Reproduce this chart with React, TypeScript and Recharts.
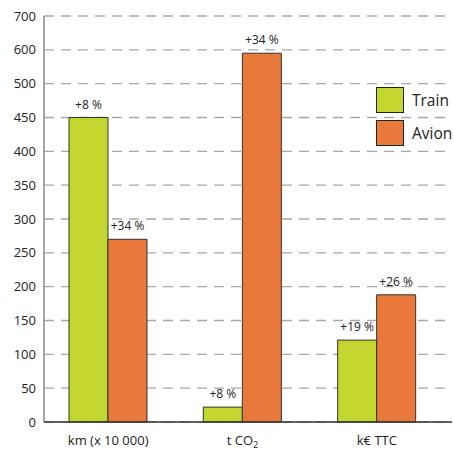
import React from "react";
import { BarChart, Bar, XAxis, YAxis, CartesianGrid, LabelList, Legend } from "recharts";

// Categories and values per mode of transport
const CATEGORIES = ["km (x 10 000)", "t CO₂", "k€ TTC"];
const TRAIN = [450, 22, 121];
const AVION = [270, 590, 188];
const TRAIN_CHANGE = ["+8 %", "+8 %", "+19 %"];
const AVION_CHANGE = ["+34 %", "+34 %", "+26 %"];

// The value axis is broken: steps of 50 up to 500, then steps of 100
const TICK_VALUES = [0, 50, 100, 150, 200, 250, 300, 350, 400, 450, 500, 600, 700];

const FONT = "'Open Sans', 'DejaVu Sans', sans-serif";
const TRAIN_COLOR = "#c3d630";
const AVION_COLOR = "#e8793a";

// Map a real value to its position on the piecewise axis (one unit per tick step)
function toAxis(v: number): number {
  for (let i = 0; i < TICK_VALUES.length - 1; i++) {
    const a = TICK_VALUES[i];
    const b = TICK_VALUES[i + 1];
    if (v <= b) return i + (v - a) / (b - a);
  }
  return TICK_VALUES.length - 1;
}

const rows = CATEGORIES.map((category, i) => ({
  category,
  train: toAxis(TRAIN[i]),
  avion: toAxis(AVION[i]),
  trainChange: TRAIN_CHANGE[i],
  avionChange: AVION_CHANGE[i],
}));

const tickIndices = TICK_VALUES.map((_, i) => i);

function CategoryTick(props: any) {
  const { x, y, payload } = props;
  const label: string = payload.value;
  const subIdx = label.indexOf("₂");
  return (
    <text x={x} y={y} dy={15} textAnchor="middle" fill="#222" fontSize={13} fontFamily={FONT}>
      {subIdx >= 0 ? (
        <>
          <tspan>{label.slice(0, subIdx)}</tspan>
          <tspan fontSize={9} dy={3}>2</tspan>
        </>
      ) : (
        label
      )}
    </text>
  );
}

// Change label drawn on one line above each bar
function ChangeLabel(props: any) {
  const { x, y, width, value } = props;
  return (
    <text
      x={Number(x) + Number(width) / 2}
      y={Number(y) - 9}
      textAnchor="middle"
      fill="#222"
      fontSize={12}
      fontFamily={FONT}
    >
      {value}
    </text>
  );
}

function LegendBox() {
  const items = [
    { name: "Train", color: TRAIN_COLOR },
    { name: "Avion", color: AVION_COLOR },
  ];
  return (
    <div style={{ display: "flex", flexDirection: "column", gap: 7 }}>
      {items.map((it) => (
        <div key={it.name} style={{ display: "flex", alignItems: "center", height: 26 }}>
          <div
            style={{
              width: 26,
              height: 24,
              background: it.color,
              border: "1px solid #222",
              marginRight: 8,
              flexShrink: 0,
            }}
          />
          <span style={{ fontFamily: FONT, fontSize: 15.5, color: "#222" }}>{it.name}</span>
        </div>
      ))}
    </div>
  );
}

export default function App() {
  return (
    <div style={{ position: "absolute", left: 0, top: 0 }}>
      <BarChart
        width={454}
        height={451}
        data={rows}
        margin={{ top: 16, right: 2, bottom: 0, left: 0 }}
        barGap={0}
      >
        <CartesianGrid vertical={false} stroke="#a8a8a8" strokeDasharray="10 7" strokeWidth={1.3} />
        <XAxis
          dataKey="category"
          height={29}
          interval={0}
          tickLine={false}
          axisLine={{ stroke: "#333", strokeWidth: 1.5 }}
          tick={<CategoryTick />}
          padding={{ left: -3, right: 8 }}
        />
        <YAxis
          type="number"
          width={44}
          domain={[0, TICK_VALUES.length - 1]}
          ticks={tickIndices}
          interval={0}
          tickLine={false}
          axisLine={{ stroke: "#8a8a8a", strokeWidth: 1.5 }}
          tickFormatter={(i: number) => String(TICK_VALUES[i])}
          tick={{ fill: "#222", fontSize: 13, fontFamily: FONT }}
        />
        <Legend
          verticalAlign="middle"
          align="center"
          layout="vertical"
          content={<LegendBox />}
          wrapperStyle={{ position: "absolute", left: 376, top: 87, width: 80 }}
        />
        <Bar
          dataKey="train"
          name="Train"
          fill={TRAIN_COLOR}
          stroke="#333"
          strokeWidth={1}
          barSize={39}
          isAnimationActive={false}
        >
          <LabelList dataKey="trainChange" content={<ChangeLabel />} />
        </Bar>
        <Bar
          dataKey="avion"
          name="Avion"
          fill={AVION_COLOR}
          stroke="#333"
          strokeWidth={1}
          barSize={39}
          isAnimationActive={false}
        >
          <LabelList dataKey="avionChange" content={<ChangeLabel />} />
        </Bar>
      </BarChart>
    </div>
  );
}
